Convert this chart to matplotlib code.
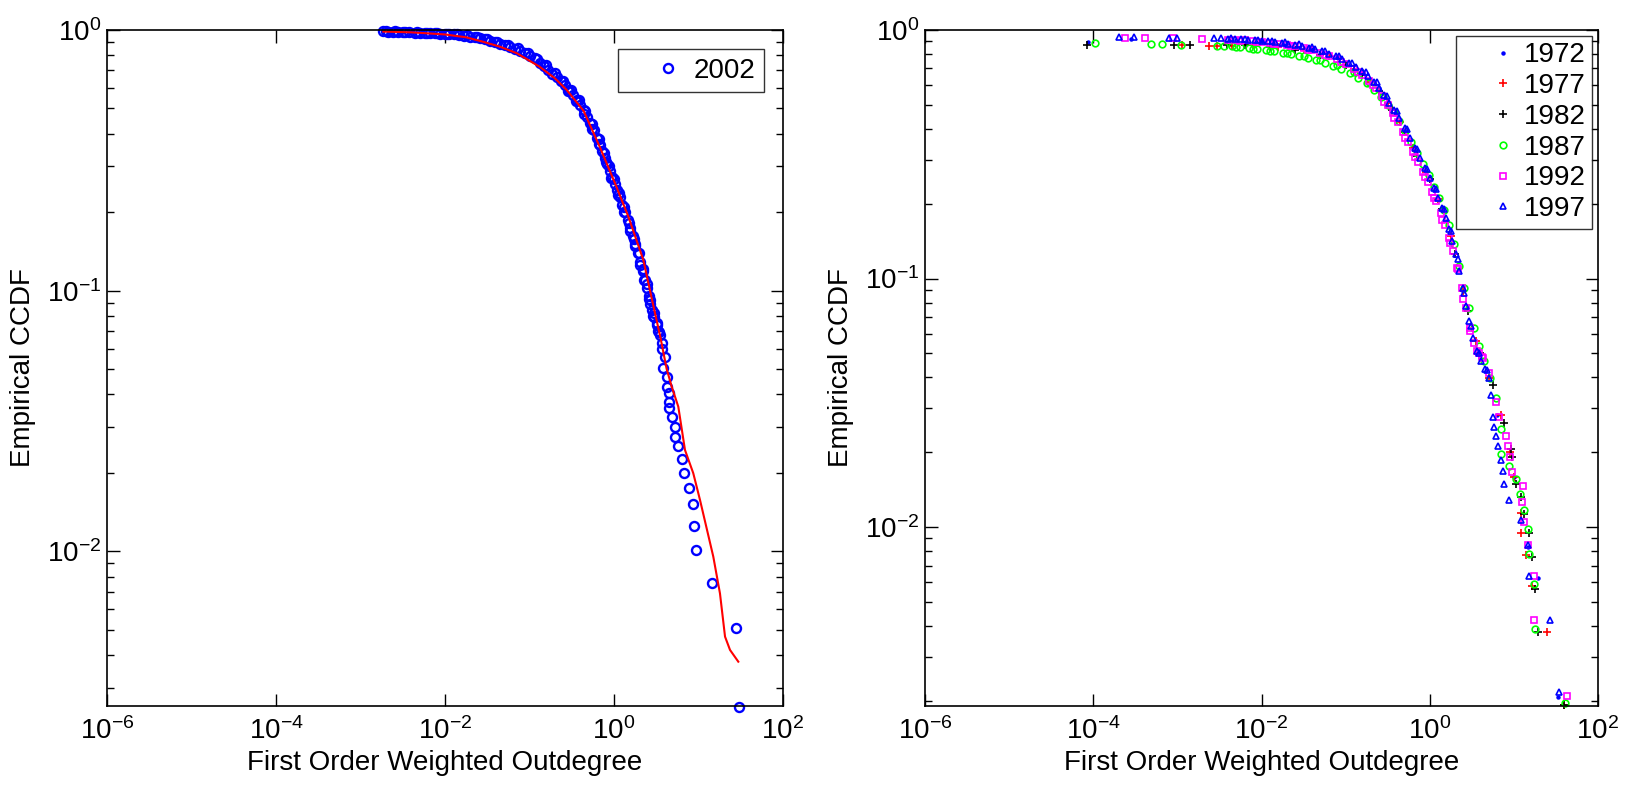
import numpy as np
import matplotlib
matplotlib.use('Agg')
import matplotlib.pyplot as plt
from matplotlib.ticker import FixedLocator, NullLocator, NullFormatter

plt.rcParams['font.family'] = ['Liberation Sans', 'DejaVu Sans']
plt.rcParams['mathtext.fontset'] = 'custom'
plt.rcParams['mathtext.rm'] = 'Liberation Sans'
plt.rcParams['mathtext.it'] = 'Liberation Sans:italic'
plt.rcParams['mathtext.bf'] = 'Liberation Sans:bold'
plt.rcParams['font.size'] = 20

# all points as (log10 x, log10 y)
ccdf_2002 = [
    # middle of the band
    (-2.73, -0.002), (-2.67, -0.006), (-2.62, -0.007), (-2.56, -0.007), (-2.50, -0.008),
    (-2.43, -0.006), (-2.36, -0.010), (-2.30, -0.011), (-2.24, -0.011), (-2.18, -0.012),
    (-2.12, -0.013), (-2.06, -0.014), (-2.00, -0.015), (-1.95, -0.016), (-1.89, -0.017),
    (-1.83, -0.019), (-1.77, -0.022), (-1.71, -0.025), (-1.65, -0.028), (-1.59, -0.032),
    (-1.53, -0.036), (-1.47, -0.041), (-1.41, -0.046), (-1.35, -0.052), (-1.29, -0.058),
    (-1.23, -0.065), (-1.17, -0.072), (-1.11, -0.080), (-1.05, -0.089), (-0.99, -0.099),
    (-0.94, -0.109), (-0.88, -0.125), (-0.83, -0.138), (-0.78, -0.152), (-0.73, -0.167),
    (-0.68, -0.182), (-0.63, -0.197), (-0.58, -0.212), (-0.53, -0.230), (-0.48, -0.250),
    (-0.44, -0.268), (-0.40, -0.287), (-0.36, -0.307), (-0.32, -0.332), (-0.28, -0.358),
    (-0.24, -0.385), (-0.20, -0.413), (-0.17, -0.440), (-0.14, -0.465), (-0.11, -0.490),
    (-0.08, -0.515), (-0.05, -0.540), (-0.02, -0.565), (0.01, -0.590), (0.04, -0.615),
    (0.07, -0.640), (0.10, -0.670), (0.13, -0.700), (0.16, -0.730), (0.19, -0.760),
    (0.22, -0.790), (0.25, -0.820), (0.28, -0.855), (0.31, -0.890), (0.34, -0.925),
    (0.37, -0.960), (0.39, -0.990), (0.41, -1.020), (0.43, -1.050), (0.45, -1.075),
    (0.47, -1.100), (0.505, -1.125), (0.53, -1.160), (0.564, -1.202), (0.604, -1.253),
    (0.584, -1.298), (0.623, -1.330), (0.623, -1.368), (0.655, -1.394), (0.655, -1.426),
    (0.655, -1.451), (0.683, -1.483), (0.722, -1.522), (0.722, -1.560), (0.754, -1.596),
    (0.801, -1.647), (0.833, -1.698), (0.892, -1.756), (0.931, -1.818), (0.951, -1.901),
    (0.970, -1.995), (1.163, -2.122), (1.444, -2.293), (1.475, -2.596),
    # upper / right side of the band
    (-2.70, -0.004), (-2.59, -0.005), (-2.47, -0.006), (-2.33, -0.009), (-2.21, -0.010),
    (-2.09, -0.012), (-1.98, -0.014), (-1.86, -0.016), (-1.74, -0.021), (-1.62, -0.027),
    (-1.50, -0.035), (-1.38, -0.045), (-1.26, -0.056), (-1.14, -0.070), (-1.02, -0.088),
    (-0.91, -0.110), (-0.80, -0.135), (-0.70, -0.166), (-0.60, -0.197), (-0.51, -0.232),
    (-0.42, -0.270), (-0.34, -0.310), (-0.26, -0.362), (-0.18, -0.420), (-0.12, -0.472),
    (-0.06, -0.520), (0.00, -0.572), (0.06, -0.625), (0.12, -0.680), (0.18, -0.740),
    (0.24, -0.800), (0.29, -0.855), (0.34, -0.915), (0.39, -0.975), (0.43, -1.035),
    (0.47, -1.085), (0.51, -1.130), (0.55, -1.170),
    # lower / left side of the steep part
    (-0.55, -0.233), (-0.45, -0.273), (-0.35, -0.323), (-0.26, -0.381), (-0.18, -0.436),
    (-0.10, -0.508), (-0.03, -0.567), (0.05, -0.633), (0.12, -0.700), (0.19, -0.770),
    (0.25, -0.830), (0.31, -0.900), (0.36, -0.958), (0.41, -1.030), (0.46, -1.097),
    (0.52, -1.155), (0.57, -1.225),
]

fit_2002 = [
    (-2.73, -0.006), (-2.40, -0.009), (-2.00, -0.017), (-1.75, -0.028), (-1.55, -0.045),
    (-1.35, -0.064), (-1.15, -0.089), (-0.88, -0.141), (-0.70, -0.185), (-0.56, -0.230),
    (-0.36, -0.310), (-0.166, -0.450), (0.012, -0.588), (0.17, -0.716), (0.347, -0.882),
    (0.44, -1.020), (0.55, -1.180), (0.623, -1.300), (0.683, -1.368), (0.761, -1.445),
    (0.840, -1.611), (0.938, -1.700), (1.018, -1.803), (1.175, -2.020), (1.254, -2.161),
    (1.314, -2.327), (1.373, -2.378), (1.471, -2.423),
]

ccdf_1972 = [
    (-4.06, -0.047), (-3.55, -0.036), (-2.3, -0.040), (-2.0, -0.045), (-1.7, -0.056),
    (-1.4, -0.076), (-1.1, -0.108), (-0.8, -0.165), (-0.6, -0.235), (-0.4, -0.335),
    (-0.2, -0.470), (0.0, -0.590), (0.2, -0.770), (0.4, -1.050), (0.6, -1.320),
    (0.8, -1.550), (1.0, -1.800), (1.163, -2.080), (1.29, -2.203), (1.52, -2.684),
]

ccdf_1977 = [
    (-2.94, -0.060), (-2.63, -0.063), (-2.53, -0.063), (-2.35, -0.063), (-2.1, -0.062),
    (-1.8, -0.067), (-1.5, -0.080), (-1.2, -0.105), (-0.9, -0.155), (-0.7, -0.210),
    (-0.5, -0.295), (-0.35, -0.370), (-0.2, -0.475), (-0.05, -0.570), (0.1, -0.680),
    (0.25, -0.830), (0.4, -1.050), (0.55, -1.250), (0.7, -1.400), (0.85, -1.550),
    (0.95, -1.700), (1.0, -1.800), (1.083, -1.942), (1.083, -2.022), (1.143, -2.114),
    (1.21, -2.238), (1.393, -2.422), (1.599, -2.717),
]

ccdf_1982 = [
    (-4.075, -0.062), (-3.04, -0.062), (-2.845, -0.062), (-2.41, -0.062), (-2.2, -0.062),
    (-1.9, -0.067), (-1.6, -0.080), (-1.3, -0.100), (-1.0, -0.140), (-0.8, -0.180),
    (-0.6, -0.245), (-0.45, -0.320), (-0.3, -0.410), (-0.15, -0.505), (0.0, -0.600),
    (0.15, -0.720), (0.3, -0.900), (0.45, -1.130), (0.6, -1.300), (0.75, -1.430),
    (0.88, -1.580), (0.964, -1.684), (0.976, -1.720), (1.024, -1.825), (1.083, -1.879),
    (1.115, -1.946), (1.183, -2.022), (1.21, -2.120), (1.254, -2.248), (1.29, -2.422),
    (1.599, -2.717),
]

ccdf_1987 = [
    (-3.985, -0.054), (-3.31, -0.057), (-3.18, -0.057), (-2.96, -0.060), (-2.53, -0.063),
    (-2.45, -0.063), (-2.35, -0.065), (-2.25, -0.068), (-2.15, -0.072), (-2.05, -0.076),
    (-1.95, -0.080), (-1.85, -0.085), (-1.75, -0.091), (-1.65, -0.097), (-1.55, -0.104),
    (-1.45, -0.112), (-1.35, -0.121), (-1.25, -0.131), (-1.15, -0.143), (-1.05, -0.157),
    (-0.95, -0.173), (-0.85, -0.192), (-0.75, -0.215), (-0.66, -0.240), (-0.58, -0.270),
    (-0.50, -0.300), (-0.43, -0.330), (-0.36, -0.365), (-0.29, -0.405), (-0.22, -0.450),
    (-0.15, -0.495), (-0.08, -0.540), (-0.01, -0.585), (0.05, -0.630), (0.11, -0.675),
    (0.17, -0.725), (0.23, -0.785), (0.29, -0.860), (0.35, -0.950), (0.41, -1.040),
    (0.47, -1.120), (0.53, -1.200), (0.59, -1.270), (0.65, -1.330), (0.72, -1.400),
    (0.79, -1.480), (0.845, -1.604), (0.845, -1.707), (0.944, -1.754), (1.024, -1.805),
    (1.075, -1.865), (1.115, -1.930), (1.163, -2.008), (1.175, -2.109), (1.242, -2.228),
    (1.254, -2.409), (1.611, -2.708),
    # lower side of the flat part
    (-2.30, -0.070), (-2.10, -0.077), (-1.90, -0.085), (-1.70, -0.094), (-1.50, -0.105),
    (-1.30, -0.119), (-1.10, -0.140), (-0.90, -0.170), (-0.72, -0.210), (-0.56, -0.265),
]

ccdf_1992 = [
    (-3.62, -0.033), (-3.39, -0.033), (-3.05, -0.033), (-2.71, -0.037), (-2.40, -0.039),
    (-2.30, -0.040), (-2.20, -0.042), (-2.10, -0.045), (-2.00, -0.048), (-1.90, -0.051),
    (-1.80, -0.055), (-1.70, -0.060), (-1.60, -0.066), (-1.50, -0.073), (-1.40, -0.082),
    (-1.30, -0.092), (-1.20, -0.104), (-1.10, -0.118), (-1.00, -0.135), (-0.90, -0.155),
    (-0.80, -0.180), (-0.72, -0.205), (-0.64, -0.235), (-0.57, -0.265), (-0.50, -0.300),
    (-0.44, -0.335), (-0.38, -0.370), (-0.32, -0.410), (-0.26, -0.450), (-0.20, -0.490),
    (-0.14, -0.530), (-0.08, -0.570), (-0.02, -0.610), (0.03, -0.650), (0.08, -0.690),
    (0.13, -0.735), (0.18, -0.785), (0.23, -0.835), (0.28, -0.890), (0.33, -0.960),
    (0.38, -1.040), (0.43, -1.120), (0.48, -1.200), (0.53, -1.260), (0.58, -1.300),
    (0.627, -1.315), (0.706, -1.382), (0.786, -1.496), (0.825, -1.557), (0.905, -1.634),
    (0.933, -1.673), (0.952, -1.720), (0.976, -1.777), (1.103, -1.835), (1.095, -1.899),
    (1.123, -1.979), (1.163, -2.073), (1.242, -2.198), (1.242, -2.373), (1.627, -2.681),
    # lower / left side
    (-2.25, -0.045), (-2.05, -0.050), (-1.85, -0.057), (-1.65, -0.066), (-1.45, -0.080),
    (-1.25, -0.100), (-1.05, -0.128), (-0.85, -0.170), (-0.68, -0.222), (-0.54, -0.290),
    (-0.42, -0.355), (-0.30, -0.433), (-0.18, -0.513), (-0.06, -0.593), (0.05, -0.676),
    (0.15, -0.765), (0.24, -0.856), (0.32, -0.956), (0.40, -1.082), (0.48, -1.210),
    (0.56, -1.290), (0.63, -1.320),
]

ccdf_1997 = [
    (-3.69, -0.030), (-3.52, -0.030), (-3.10, -0.031), (-3.00, -0.031), (-2.56, -0.034),
    (-2.48, -0.034), (-2.40, -0.036), (-2.32, -0.037), (-2.24, -0.038), (-2.16, -0.040),
    (-2.08, -0.042), (-2.00, -0.044), (-1.92, -0.046), (-1.84, -0.049), (-1.76, -0.052),
    (-1.68, -0.056), (-1.60, -0.060), (-1.52, -0.065), (-1.44, -0.071), (-1.36, -0.078),
    (-1.28, -0.086), (-1.20, -0.095), (-1.12, -0.105), (-1.04, -0.117), (-0.96, -0.131),
    (-0.88, -0.147), (-0.80, -0.166), (-0.73, -0.186), (-0.66, -0.210), (-0.60, -0.235),
    (-0.54, -0.262), (-0.48, -0.292), (-0.42, -0.322), (-0.36, -0.355), (-0.30, -0.395),
    (-0.24, -0.435), (-0.18, -0.475), (-0.12, -0.515), (-0.06, -0.555), (0.00, -0.595),
    (0.05, -0.635), (0.10, -0.675), (0.15, -0.715), (0.19, -0.755), (0.23, -0.800),
    (0.27, -0.850), (0.31, -0.900), (0.35, -0.970), (0.39, -1.040), (0.43, -1.110),
    (0.47, -1.170), (0.51, -1.240), (0.56, -1.290), (0.61, -1.330), (0.66, -1.365),
    (0.70, -1.400), (0.73, -1.470), (0.746, -1.557), (0.766, -1.597), (0.786, -1.634),
    (0.806, -1.673), (0.845, -1.731), (0.865, -1.774), (0.885, -1.828), (0.944, -1.892),
    (1.083, -1.973), (1.163, -2.073), (1.183, -2.198), (1.433, -2.373), (1.540, -2.664),
    # upper / right side
    (-2.36, -0.033), (-2.20, -0.035), (-2.04, -0.039), (-1.88, -0.044), (-1.72, -0.050),
    (-1.56, -0.058), (-1.40, -0.069), (-1.24, -0.085), (-1.08, -0.105), (-0.92, -0.132),
    (-0.76, -0.168), (-0.63, -0.210), (-0.51, -0.265), (-0.39, -0.325), (-0.27, -0.400),
    (-0.15, -0.480), (-0.03, -0.560), (0.07, -0.640), (0.17, -0.720), (0.25, -0.810),
    (0.33, -0.920), (0.41, -1.060), (0.49, -1.190), (0.585, -1.300), (0.68, -1.370),
]

years = ['1972', '1977', '1982', '1987', '1992', '1997']
series = [ccdf_1972, ccdf_1977, ccdf_1982, ccdf_1987, ccdf_1992, ccdf_1997]
colors = ['#0000ff', '#ff0000', '#000000', '#00ff00', '#ff00ff', '#0000ff']
markers = ['.', '+', '+', 'o', 's', '^']
msizes = [4, 6, 6, 4.8, 4.8, 4.8]


def unlog(pts):
    a = 10 ** np.array(pts)
    return a[:, 0], a[:, 1]


def style(ax, ybottom):
    ax.set_xscale('log')
    ax.set_yscale('log')
    ax.set_xlim(1e-6, 1e2)
    ax.set_ylim(ybottom, 1)
    ax.xaxis.set_major_locator(FixedLocator([1e-6, 1e-4, 1e-2, 1e0, 1e2]))
    ax.xaxis.set_minor_locator(NullLocator())
    ax.yaxis.set_minor_formatter(NullFormatter())
    ax.tick_params(which='both', direction='in', top=True, right=True, width=1, labelsize=20)
    ax.tick_params(which='major', length=9)
    ax.tick_params(which='minor', length=5)
    ax.tick_params(axis='x', pad=8)
    ax.tick_params(axis='y', pad=4)
    for s in ax.spines.values():
        s.set_linewidth(1.2)
    ax.set_xlabel('First Order Weighted Outdegree', fontsize=20, labelpad=4)
    ax.set_ylabel('Empirical CCDF', fontsize=20, labelpad=8)


fig = plt.figure(figsize=(16.28, 7.93), dpi=100)
ax1 = fig.add_axes([107 / 1628, 87 / 793, 676 / 1628, 676 / 793])
ax2 = fig.add_axes([925 / 1628, 87 / 793, 673 / 1628, 676 / 793])

# left panel: 2002 data and fitted curve
x, y = unlog(ccdf_2002)
ax1.plot(x, y, 'o', color='#0000ff', mfc='none', ms=6.5, mew=1.7, label='2002', clip_on=False)
fx, fy = unlog(fit_2002)
ax1.plot(fx, fy, '-', color='#ff0000', lw=1.5)
style(ax1, 10 ** -2.593)
leg = ax1.legend(loc='upper right', fontsize=20, fancybox=False, edgecolor='black',
                 borderaxespad=0.7, handlelength=3.0, handletextpad=-0.6, borderpad=0.3)
leg.get_frame().set_linewidth(1.0)

# right panel: earlier years
for yr, pts, c, m, ms in zip(years, series, colors, markers, msizes):
    x, y = unlog(pts)
    mfc = c if m == '.' else 'none'
    ax2.plot(x, y, m, color=c, mfc=mfc, ms=ms, mew=1.2, label=yr, clip_on=False)
style(ax2, 10 ** -2.72)
leg = ax2.legend(loc='upper right', fontsize=20, fancybox=False, edgecolor='black',
                 borderaxespad=0.2, labelspacing=0.17, handlelength=2.9,
                 handletextpad=-0.7, borderpad=0.25)
leg.get_frame().set_linewidth(1.0)

fig.savefig('out.png', dpi=100)
